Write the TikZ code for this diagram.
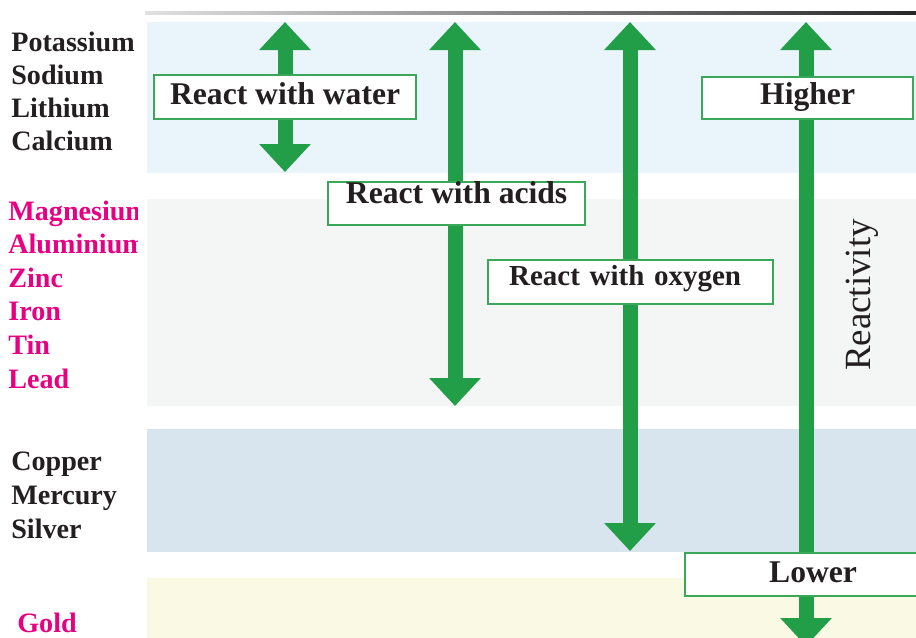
\documentclass[tikz,border=0pt]{standalone}
\usepackage{fontspec}
\setmainfont{Liberation Serif}
\usetikzlibrary{arrows.meta}
\definecolor{arrowgreen}{RGB}{35,158,72}
\definecolor{boxgreen}{RGB}{58,168,88}
\definecolor{ink}{RGB}{35,31,32}
\definecolor{metalpink}{RGB}{232,0,130}
\definecolor{bandblue}{RGB}{234,244,251}
\definecolor{bandgray}{RGB}{244,246,246}
\definecolor{bandsteel}{RGB}{216,228,238}
\definecolor{bandcream}{RGB}{250,249,227}

\begin{document}
\begin{tikzpicture}[x=0.02cm,y=-0.02cm,
  metal/.style={anchor=base west,inner sep=0,text=ink,font=\fontsize{16}{19}\selectfont\bfseries},
  reacts/.style={draw=boxgreen,line width=1.3pt,fill=white,inner sep=0,anchor=north west,text=ink,font=\fontsize{18}{21}\selectfont\bfseries},
  twoway/.style={arrowgreen,line width=0.3cm,{Triangle[width=1cm,length=0.56cm]}-{Triangle[width=1cm,length=0.56cm]}}]
\useasboundingbox (0,0) rectangle (916,637);
\clip (0,0) rectangle (916,637);

\shade[left color=black!12,right color=black!85] (145,11.5) rectangle (916,14.5);

% metals, most reactive first
\foreach \metal [count=\i] in {Potassium,Sodium,Lithium,Calcium}
  \node[metal] (high\i) at (11,{17.7+33.3*\i}) {\metal};
\foreach \metal [count=\i] in {Magnesium,Aluminium,Zinc,Iron,Tin,Lead}
  \node[metal,text=metalpink] (mid\i) at (8,{186.4+33.6*\i}) {\metal};
\foreach \metal [count=\i] in {Copper,Mercury,Silver}
  \node[metal] (low\i) at (11,{436+34*\i}) {\metal};
\node[metal,text=metalpink] (gold) at (17,632) {Gold};
\fill[white] (138,190) rectangle (147,260);

\foreach \ytop/\ybot/\col in {22/173/bandblue,199/406/bandgray,429/552/bandsteel,578/650/bandcream}
  \fill[\col] (147,\ytop) rectangle (916,\ybot);

\foreach \name/\x/\ybot in {water/285/172,acids/455/406,oxygen/630/551,reactivity/806/646}
{
  \coordinate (\name top) at (\x,22);
  \coordinate (\name bottom) at (\x,\ybot);
  \draw[twoway] (\name top) -- (\name bottom);
}

\node[reacts,minimum width=5.24cm,text height=0.58cm,text depth=0.30cm] (water) at (153,74) {React with water};
\node[reacts,minimum width=5.14cm,text height=0.42cm,text depth=0.44cm] (acids) at (327,181) {React with acids};
\node[reacts,text width=4.86cm,align=left,inner xsep=0.42cm,text height=0.50cm,text depth=0.38cm,font=\fontsize{16.5}{19}\selectfont\bfseries] (oxygen) at (487,259) {React with oxygen};
\node[reacts,minimum width=4.22cm,text height=0.54cm,text depth=0.30cm] (higher) at (701,76) {Higher};
\node[reacts,minimum width=5.12cm,text height=0.58cm,text depth=0.28cm] (lower) at (684,552) {Lower};

\node[rotate=90,text=ink,font=\fontsize{21}{24}\selectfont] (reactivity) at (862,295) {Reactivity};
\end{tikzpicture}
\end{document}
